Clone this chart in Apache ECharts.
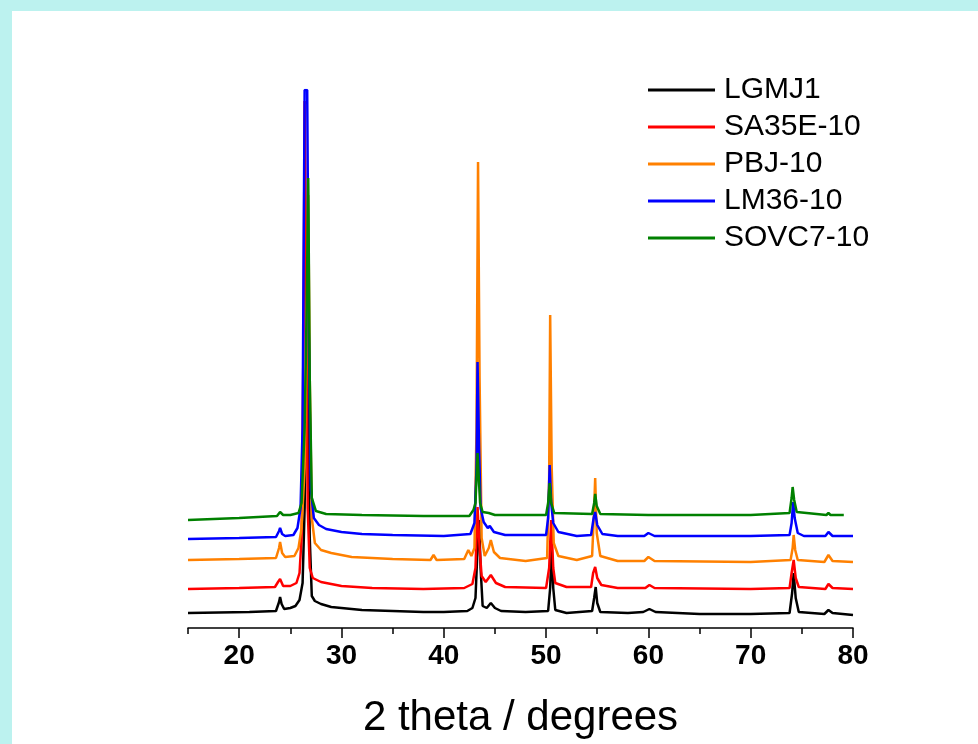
<!DOCTYPE html>
<html>
<head>
<meta charset="utf-8">
<script src="https://cdn.jsdelivr.net/npm/echarts@6/dist/echarts.min.js"></script>
<style>
  html, body { margin: 0; padding: 0; background: #ffffff; }
  #chart { width: 978px; height: 744px; }
</style>
</head>
<body>
<div id="chart"></div>
<script>
// XRD patterns, [2theta, intensity (a.u., stacked with offsets)]
const lgmj1 = [[15,15],[18,15.5],[21,16],[23.6,17],[23.9,26],[24.0,31],[24.15,24],[24.4,19],[25.0,20],[25.5,22],[25.9,28],[26.2,45],[26.4,120],[26.6,300],[26.75,220],[26.9,90],[27.1,32],[27.4,27],[28,24],[29,21],[30,20],[32,18],[35,17],[38,16],[40,16],[42.3,17],[42.8,20],[43.1,30],[43.3,80],[43.45,108],[43.6,60],[43.8,22],[44.2,20],[44.6,25],[45.0,20],[45.6,17],[48,16],[50.2,17],[50.4,40],[50.55,80],[50.7,40],[50.9,18],[52,15],[54.5,17],[54.7,30],[54.85,41],[55.0,25],[55.3,16],[58,15],[59.5,16],[60.1,19],[60.7,16],[65,14],[70,14],[73.8,15],[74.05,35],[74.2,55],[74.4,30],[74.7,16],[77.2,14],[77.6,18],[78,15],[80,13]];
const sa35e10 = [[15,39],[20,40],[23.5,41],[23.8,46],[24.0,49],[24.3,42],[25,42],[25.6,45],[25.9,55],[26.1,90],[26.3,300],[26.4,527],[26.55,350],[26.7,120],[26.9,60],[27.2,50],[28,46],[30,42],[33,40],[38,39],[42,40],[42.8,44],[43.1,60],[43.3,121],[43.5,80],[43.7,52],[44.1,46],[44.6,53],[45.1,45],[46,41],[50,40],[50.3,60],[50.5,108],[50.7,60],[50.9,45],[52,41],[54.4,41],[54.6,55],[54.8,61],[55,50],[55.4,43],[57,40],[59.7,40],[60.1,43],[60.6,40],[70,39],[73.8,40],[74.0,55],[74.2,68],[74.4,50],[74.7,41],[77.3,39],[77.6,44],[78,40],[80,39]];
const pbj10 = [[15,68],[20,69],[23.6,70],[23.9,80],[24.0,86],[24.2,75],[24.5,71],[25.4,72],[25.8,80],[26.1,100],[26.4,160],[26.6,300],[26.75,433],[26.9,250],[27.1,110],[27.4,85],[28,78],[29,75],[31,71],[35,69],[38.7,68],[39.0,73],[39.3,68],[42.0,69],[42.4,78],[42.7,72],[43.0,80],[43.2,200],[43.35,466],[43.5,250],[43.7,90],[44.0,72],[44.4,80],[44.6,88],[44.9,76],[45.5,70],[48,67],[50.1,70],[50.3,150],[50.4,313],[50.55,160],[50.75,85],[51.2,72],[53,68],[54.5,72],[54.7,120],[54.8,150],[54.95,95],[55.3,72],[57,67],[59.6,67],[60.0,71],[60.6,67],[70,66],[73.9,68],[74.1,80],[74.2,93],[74.35,78],[74.6,68],[77.2,66],[77.6,73],[78.0,67],[80,66]];
const lm3610 = [[15,89],[20,90],[23.6,91],[23.9,97],[24.0,100],[24.2,94],[24.5,92],[25.3,93],[25.7,100],[26.0,120],[26.2,200],[26.4,538],[26.65,538],[26.8,300],[27.0,140],[27.3,110],[27.8,103],[28.5,99],[30,96],[32,94],[35,93],[40,92],[42.6,94],[43.0,105],[43.2,160],[43.3,266],[43.45,180],[43.6,120],[43.9,106],[44.3,100],[44.5,102],[44.9,96],[46,93],[50,93],[50.2,110],[50.35,163],[50.5,125],[50.7,105],[51.2,96],[53,92],[54.4,93],[54.65,110],[54.8,116],[55.0,103],[55.5,94],[57,92],[59.6,92],[60.0,95],[60.6,92],[70,92],[73.8,93],[74.0,105],[74.15,126],[74.3,110],[74.6,95],[75.2,92],[77.3,92],[77.6,96],[78,92],[80,92]];
const sovc710 = [[15,108],[20,110],[23.7,112],[24.0,116],[24.3,113],[25,113],[25.8,115],[26.1,125],[26.4,200],[26.6,320],[26.75,450],[26.9,250],[27.1,130],[27.5,117],[28.5,114],[32,113],[38,112],[42.5,112],[42.9,118],[43.1,125],[43.3,175],[43.4,175],[43.55,125],[43.8,116],[44.4,115],[45,113],[50,113],[50.2,125],[50.35,145],[50.5,125],[50.8,115],[54.5,114],[54.7,125],[54.8,134],[54.95,122],[55.3,114],[60,113],[70,113],[73.8,115],[74.0,130],[74.1,141],[74.25,128],[74.5,116],[77.4,113],[77.6,115],[77.8,113],[79.1,113]];

const seriesNames = ['LGMJ1', 'SA35E-10', 'PBJ-10', 'LM36-10', 'SOVC7-10'];
const seriesData = [lgmj1, sa35e10, pbj10, lm3610, sovc710];
const seriesColors = ['#000000', '#ff0000', '#ff8000', '#0000ff', '#008000'];

const majorTicks = [20, 30, 40, 50, 60, 70, 80];
const minorTicks = [15, 25, 35, 45, 55, 65, 75];
const xMin = 15, xMax = 80;

const chart = echarts.init(document.getElementById('chart'), null, { renderer: 'canvas' });

const font = 'Liberation Sans, Arial, sans-serif';

chart.setOption({
  animation: false,
  backgroundColor: '#ffffff',
  graphic: [
    { type: 'rect', shape: { x: 0, y: 0, width: 978, height: 11 }, style: { fill: '#bcf2ef' }, z: 100 },
    { type: 'rect', shape: { x: 0, y: 0, width: 12, height: 744 }, style: { fill: '#bcf2ef' }, z: 100 }
  ],
  grid: { left: 188, right: 125, top: 90, bottom: 116, containLabel: false },
  legend: {
    orient: 'vertical',
    left: 648,
    top: 75,
    padding: 0,
    itemWidth: 67,
    itemHeight: 3,
    itemGap: 7,
    icon: 'rect',
    data: seriesNames,
    textStyle: { fontFamily: font, fontSize: 30, color: '#000', padding: [0, 0, 0, 4] }
  },
  xAxis: [
    {
      type: 'value', min: xMin, max: xMax, position: 'bottom',
      axisLine: { show: true, onZero: false, lineStyle: { color: '#000', width: 1.5 } },
      axisTick: { show: true, customValues: majorTicks, length: 10, lineStyle: { color: '#000', width: 1.5 } },
      axisLabel: { customValues: majorTicks, fontFamily: font, fontSize: 28, fontWeight: 'bold', color: '#000', margin: 14 },
      splitLine: { show: false },
      name: '2 theta / degrees',
      nameLocation: 'middle',
      nameGap: 69,
      nameTextStyle: { fontFamily: font, fontSize: 42, color: '#000' }
    },
    {
      type: 'value', min: xMin, max: xMax, position: 'bottom',
      axisLine: { show: false },
      axisTick: { show: true, customValues: minorTicks, length: 6, lineStyle: { color: '#000', width: 1.5 } },
      axisLabel: { show: false },
      splitLine: { show: false }
    }
  ],
  yAxis: { type: 'value', min: 0, max: 538, show: false },
  series: seriesNames.map((name, i) => ({
    name,
    type: 'line',
    data: seriesData[i],
    showSymbol: false,
    symbol: 'none',
    color: seriesColors[i],
    lineStyle: { color: seriesColors[i], width: 2.5 },
    z: 2 + i
  }))
});
</script>
</body>
</html>
